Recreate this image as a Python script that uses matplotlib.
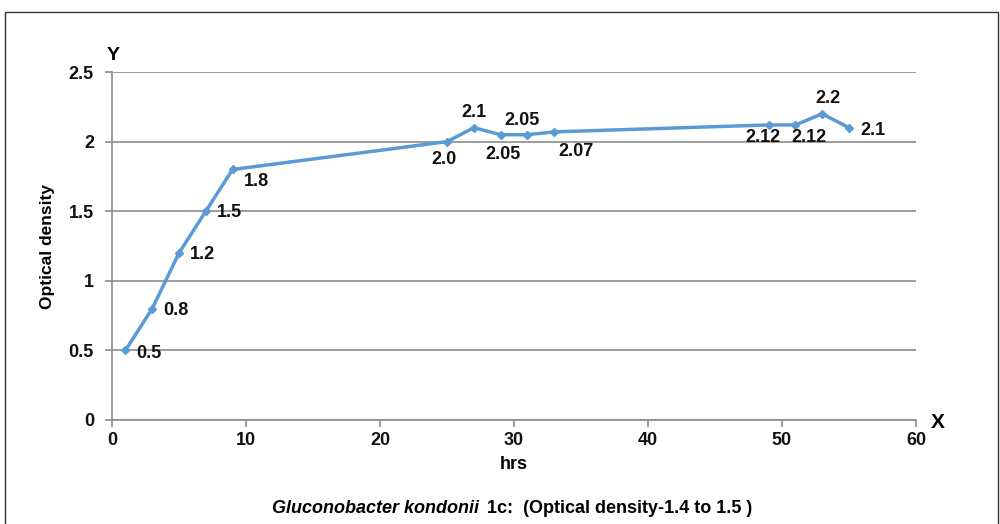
import matplotlib
matplotlib.use('Agg')
import matplotlib.pyplot as plt
from matplotlib.patches import Rectangle

# Growth readings
hours = [1, 3, 5, 7, 9, 25, 27, 29, 31, 33, 49, 51, 53, 55]
density = [0.5, 0.8, 1.2, 1.5, 1.8, 2.0, 2.1, 2.05, 2.05, 2.07, 2.12, 2.12, 2.2, 2.1]
point_labels = ['0.5', '0.8', '1.2', '1.5', '1.8', '2.0', '2.1', '2.05', '2.05', '2.07',
                '2.12', '2.12', '2.2', '2.1']
# label offsets in points (dx, dy) and horizontal alignment
label_pos = [(8, -2, 'left'), (8, -1, 'left'), (8, -1, 'left'), (8, -1, 'left'),
             (8, -9, 'left'), (-2, -13, 'center'), (0, 11, 'center'), (2, -14, 'center'),
             (-4, 10, 'center'), (16, -14, 'center'), (-4, -9, 'center'), (10, -9, 'center'),
             (4, 11, 'center'), (8, -2, 'left')]

plt.rcParams['font.family'] = ['Liberation Sans', 'DejaVu Sans']
plt.rcParams['font.weight'] = 'bold'

fig = plt.figure(figsize=(10, 5.24), dpi=100)
ax = fig.add_axes([0.112, 0.1985, 0.804, 0.664])

# outer frame (open at the bottom)
fig.add_artist(Rectangle((0.005, -0.1), 0.993, 1.077, transform=fig.transFigure,
                         fill=False, edgecolor='#333333', linewidth=1.0))

line_color = '#5B9BD5'
ax.plot(hours, density, color=line_color, linewidth=2.5, marker='D', markersize=4,
        markerfacecolor=line_color, markeredgecolor=line_color, zorder=3)

for x, y, lab, (dx, dy, ha) in zip(hours, density, point_labels, label_pos):
    ax.annotate(lab, (x, y), xytext=(dx, dy), textcoords='offset points',
                ha=ha, va='center', fontsize=13, fontweight='bold', color='#111111')

ax.set_xlim(0, 60)
ax.set_ylim(0, 2.5)
ax.set_xticks(range(0, 61, 10))
ax.set_yticks([0, 0.5, 1, 1.5, 2, 2.5])
ax.set_yticklabels(['0', '0.5', '1', '1.5', '2', '2.5'])
ax.grid(axis='y', color='#8c8c8c', linewidth=1.2)
ax.set_axisbelow(True)
for side in ['top', 'right']:
    ax.spines[side].set_visible(False)
for side in ['left', 'bottom']:
    ax.spines[side].set_color('#8c8c8c')
    ax.spines[side].set_linewidth(1.2)
ax.tick_params(axis='both', colors='#8c8c8c', labelcolor='#111111', labelsize=13,
               length=5, width=1.2)
ax.tick_params(axis='y', pad=8)

ax.set_ylabel('Optical density', fontsize=12.5, fontweight='bold', labelpad=10)
ax.set_xlabel('hrs', fontsize=13, fontweight='bold', labelpad=5)

fig.text(0.113, 0.895, 'Y', fontsize=14, fontweight='bold', ha='center', va='center')
fig.text(0.938, 0.193, 'X', fontsize=15, fontweight='bold', ha='center', va='center')

# caption: italic species name followed by the upright part
species = fig.text(0.272, 0.03, 'Gluconobacter kondonii', fontsize=13, fontweight='bold',
                   style='italic', ha='left', va='center')
fig.canvas.draw()
bb = species.get_window_extent().transformed(fig.transFigure.inverted())
fig.text(bb.x1 + 0.008, 0.03, '1c:  (Optical density-1.4 to 1.5 )', fontsize=13,
         fontweight='bold', ha='left', va='center')

fig.savefig('out.png', dpi=100)
